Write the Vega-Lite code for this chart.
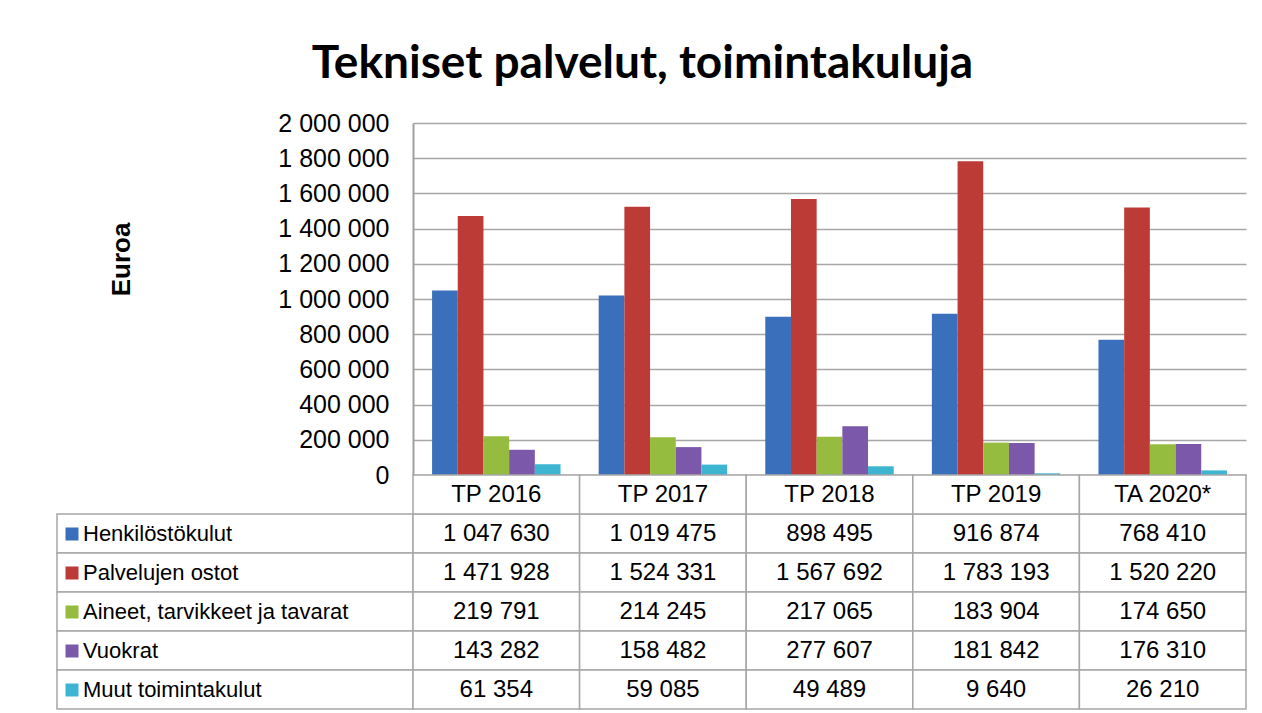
{
  "$schema": "https://vega.github.io/schema/vega-lite/v6.json",
  "background": "white",
  "padding": {"left": 56, "top": 41, "right": 17, "bottom": 4},
  "title": {
    "text": "Tekniset palvelut, toimintakuluja",
    "font": "Lato",
    "fontSize": 46,
    "fontWeight": "bold",
    "color": "black",
    "anchor": "middle",
    "offset": 23,
    "dx": -9
  },
  "datasets": {
    "kulut": [
      {"vuosi": "TP 2016", "laji": "Henkilöstökulut", "euroa": 1047630},
      {"vuosi": "TP 2016", "laji": "Palvelujen ostot", "euroa": 1471928},
      {"vuosi": "TP 2016", "laji": "Aineet, tarvikkeet ja tavarat", "euroa": 219791},
      {"vuosi": "TP 2016", "laji": "Vuokrat", "euroa": 143282},
      {"vuosi": "TP 2016", "laji": "Muut toimintakulut", "euroa": 61354},
      {"vuosi": "TP 2017", "laji": "Henkilöstökulut", "euroa": 1019475},
      {"vuosi": "TP 2017", "laji": "Palvelujen ostot", "euroa": 1524331},
      {"vuosi": "TP 2017", "laji": "Aineet, tarvikkeet ja tavarat", "euroa": 214245},
      {"vuosi": "TP 2017", "laji": "Vuokrat", "euroa": 158482},
      {"vuosi": "TP 2017", "laji": "Muut toimintakulut", "euroa": 59085},
      {"vuosi": "TP 2018", "laji": "Henkilöstökulut", "euroa": 898495},
      {"vuosi": "TP 2018", "laji": "Palvelujen ostot", "euroa": 1567692},
      {"vuosi": "TP 2018", "laji": "Aineet, tarvikkeet ja tavarat", "euroa": 217065},
      {"vuosi": "TP 2018", "laji": "Vuokrat", "euroa": 277607},
      {"vuosi": "TP 2018", "laji": "Muut toimintakulut", "euroa": 49489},
      {"vuosi": "TP 2019", "laji": "Henkilöstökulut", "euroa": 916874},
      {"vuosi": "TP 2019", "laji": "Palvelujen ostot", "euroa": 1783193},
      {"vuosi": "TP 2019", "laji": "Aineet, tarvikkeet ja tavarat", "euroa": 183904},
      {"vuosi": "TP 2019", "laji": "Vuokrat", "euroa": 181842},
      {"vuosi": "TP 2019", "laji": "Muut toimintakulut", "euroa": 9640},
      {"vuosi": "TA 2020*", "laji": "Henkilöstökulut", "euroa": 768410},
      {"vuosi": "TA 2020*", "laji": "Palvelujen ostot", "euroa": 1520220},
      {"vuosi": "TA 2020*", "laji": "Aineet, tarvikkeet ja tavarat", "euroa": 174650},
      {"vuosi": "TA 2020*", "laji": "Vuokrat", "euroa": 176310},
      {"vuosi": "TA 2020*", "laji": "Muut toimintakulut", "euroa": 26210}
    ]
  },
  "data": {"name": "kulut"},
  "columns": 2,
  "spacing": 0,
  "bounds": "flush",
  "resolve": {"scale": {"x": "independent", "y": "independent", "color": "shared"}},
  "concat": [
    {
      "width": 356,
      "height": 352,
      "data": {"values": []},
      "mark": "text",
      "encoding": {}
    },
    {
      "width": 833,
      "height": 352,
      "mark": {"type": "bar"},
      "encoding": {
        "x": {
          "field": "vuosi", "type": "nominal",
          "sort": ["TP 2016", "TP 2017", "TP 2018", "TP 2019", "TA 2020*"],
          "scale": {"paddingInner": 0.229, "paddingOuter": 0.1145},
          "axis": null
        },
        "xOffset": {
          "field": "laji", "type": "nominal",
          "sort": ["Henkilöstökulut", "Palvelujen ostot", "Aineet, tarvikkeet ja tavarat", "Vuokrat", "Muut toimintakulut"],
          "scale": {"paddingInner": 0, "paddingOuter": 0}
        },
        "y": {
          "field": "euroa", "type": "quantitative",
          "scale": {"domain": [0, 2000000], "nice": false},
          "axis": {
            "title": "Euroa",
            "values": [0, 200000, 400000, 600000, 800000, 1000000, 1200000, 1400000, 1600000, 1800000, 2000000],
            "format": ",.0f",
            "grid": true,
            "gridColor": "#a6a6a6",
            "gridWidth": 1.5,
            "ticks": false,
            "domain": true,
            "domainColor": "#a0a0a0",
            "domainWidth": 2,
            "labelFont": "Liberation Sans",
            "labelFontSize": 25,
            "labelColor": "black",
            "labelPadding": 24,
            "titleFont": "Liberation Sans",
            "titleFontSize": 26,
            "titleFontWeight": "bold",
            "titleColor": "black",
            "titleX": -279,
            "titleY": 136
          }
        },
        "color": {
          "field": "laji", "type": "nominal",
          "scale": {
            "domain": ["Henkilöstökulut", "Palvelujen ostot", "Aineet, tarvikkeet ja tavarat", "Vuokrat", "Muut toimintakulut"],
            "range": ["#3a70bb", "#bd3b37", "#95bb3f", "#7b58a9", "#3db5d1"]
          },
          "legend": {
            "orient": "none",
            "legendX": 4,
            "legendY": 400,
            "title": null,
            "symbolType": "square",
            "symbolSize": 169,
            "symbolStrokeWidth": 0,
            "labelFont": "Liberation Sans",
            "labelFontSize": 22,
            "labelColor": "black",
            "labelOffset": 0,
            "labelLimit": 400,
            "rowPadding": 17,
            "padding": 0
          }
        }
      }
    },
    {
      "width": 356,
      "height": 234,
      "transform": [{"filter": "datum.vuosi == 'TP 2016'"}],
      "mark": {"type": "rect", "fill": "white", "stroke": "#a6a6a6", "strokeWidth": 1.5},
      "encoding": {
        "y": {
          "field": "laji", "type": "nominal",
          "scale": {
            "domain": ["_otsikko", "Henkilöstökulut", "Palvelujen ostot", "Aineet, tarvikkeet ja tavarat", "Vuokrat", "Muut toimintakulut"],
            "paddingInner": 0, "paddingOuter": 0
          },
          "axis": null
        }
      }
    },
    {
      "width": 833,
      "height": 234,
      "encoding": {
        "x": {
          "field": "vuosi", "type": "nominal",
          "sort": ["TP 2016", "TP 2017", "TP 2018", "TP 2019", "TA 2020*"],
          "scale": {"paddingInner": 0, "paddingOuter": 0},
          "axis": null
        }
      },
      "layer": [
        {
          "mark": {"type": "rect", "fill": "white", "stroke": "#a6a6a6", "strokeWidth": 1.5},
          "encoding": {
            "y": {
              "field": "laji", "type": "nominal",
              "scale": {
                "domain": ["_otsikko", "Henkilöstökulut", "Palvelujen ostot", "Aineet, tarvikkeet ja tavarat", "Vuokrat", "Muut toimintakulut"],
                "paddingInner": 0, "paddingOuter": 0
              },
              "axis": null
            }
          }
        },
        {
          "mark": {"type": "text", "font": "Liberation Sans", "fontSize": 24, "color": "black"},
          "encoding": {
            "y": {"field": "laji", "type": "nominal"},
            "text": {"field": "euroa", "type": "quantitative", "format": ",.0f"}
          }
        },
        {
          "transform": [{"filter": "datum.laji == 'Henkilöstökulut'"}],
          "mark": {"type": "rect", "fill": "white", "stroke": "#a6a6a6", "strokeWidth": 1.5},
          "encoding": {
            "y": {"datum": "_otsikko", "type": "nominal"}
          }
        },
        {
          "transform": [{"filter": "datum.laji == 'Henkilöstökulut'"}],
          "mark": {"type": "text", "font": "Liberation Sans", "fontSize": 24, "color": "black"},
          "encoding": {
            "y": {"datum": "_otsikko", "type": "nominal"},
            "text": {"field": "vuosi", "type": "nominal"}
          }
        }
      ]
    }
  ],
  "config": {
    "view": {"stroke": null},
    "locale": {
      "number": {"decimal": ",", "thousands": " ", "grouping": [3], "currency": ["", " €"]}
    }
  }
}
